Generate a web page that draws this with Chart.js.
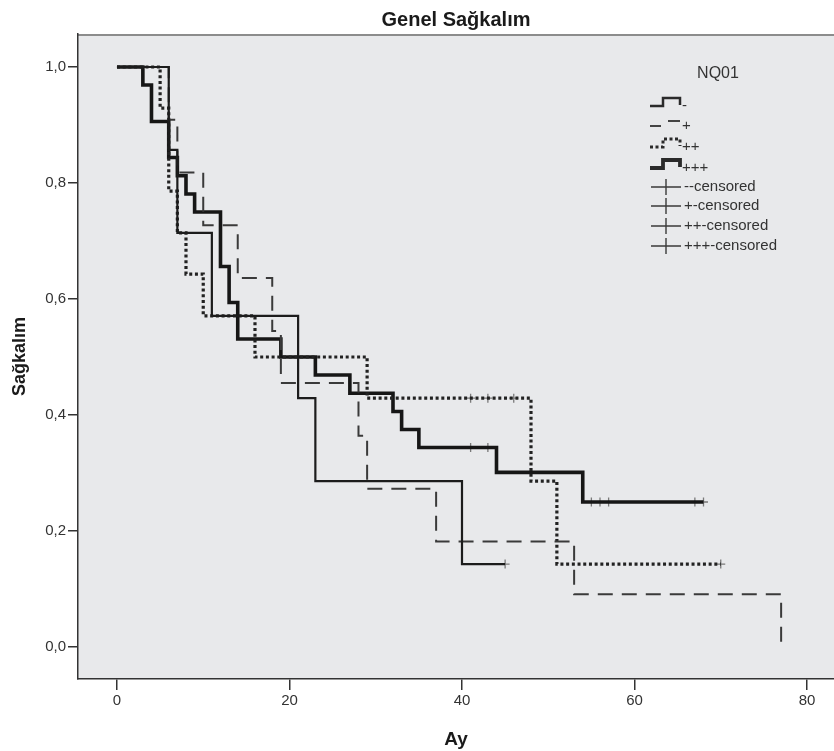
<!DOCTYPE html>
<html>
<head>
<meta charset="utf-8">
<script src="https://cdn.jsdelivr.net/npm/chart.js@4.4.0/dist/chart.umd.min.js"></script>
<style>
  html, body { margin: 0; padding: 0; background: #fff; }
  #wrap { width: 834px; height: 751px; }
</style>
</head>
<body>
<div id="wrap"><canvas id="km" width="834" height="751"></canvas></div>
<script>
// Kaplan-Meier steps per NQ01 group (time in months, survival)
const minusTimes = [0, 6, 7, 11, 21, 23, 40, 45];
const minusSurv = [1, 0.857, 0.714, 0.571, 0.429, 0.286, 0.143, 0.143];
const minusCensorTimes = [45];
const minusCensorSurv = [0.143];

const plusTimes = [0, 6, 7, 10, 14, 18, 19, 28, 29, 37, 53, 77];
const plusSurv = [1, 0.909, 0.818, 0.727, 0.636, 0.545, 0.455, 0.364, 0.273, 0.182, 0.091, 0];
const plusCensorTimes = [];
const plusCensorSurv = [];

const plus2Times = [0, 5, 6, 7, 8, 10, 16, 29, 48, 51, 70];
const plus2Surv = [1, 0.929, 0.786, 0.714, 0.643, 0.571, 0.5, 0.429, 0.286, 0.143, 0.143];
const plus2CensorTimes = [41, 43, 46, 70];
const plus2CensorSurv = [0.429, 0.429, 0.429, 0.143];

const plus3Times = [0, 3, 4, 6, 7, 8, 9, 12, 13, 14, 19, 23, 27, 32, 33, 35, 44, 54, 68];
const plus3Surv = [1, 0.969, 0.906, 0.844, 0.8125, 0.781, 0.75, 0.656, 0.594, 0.531, 0.5, 0.469, 0.4375, 0.406, 0.375, 0.344, 0.301, 0.25, 0.25];
const plus3CensorTimes = [41, 43, 55, 56, 57, 67, 68];
const plus3CensorSurv = [0.344, 0.344, 0.25, 0.25, 0.25, 0.25, 0.25];

const xTicks = [0, 20, 40, 60, 80];
const yTicks = [0, 0.2, 0.4, 0.6, 0.8, 1.0];

const FONT = "'Liberation Sans Narrow', 'Liberation Sans', Arial, sans-serif";

function pts(xs, ys) {
    return xs.map((x, i) => ({ x: x, y: ys[i] }));
}

function stepLine(label, xs, ys, width, dash, color) {
    return {
        type: 'line',
        label: label,
        data: pts(xs, ys),
        stepped: 'before',
        borderColor: color,
        borderWidth: width,
        borderDash: dash,
        pointRadius: 0,
        fill: false
    };
}

function censorSet(label, xs, ys) {
    return {
        type: 'scatter',
        label: label,
        data: pts(xs, ys),
        pointStyle: 'cross',
        pointRadius: 4.5,
        borderColor: '#7a7a7a',
        backgroundColor: '#7a7a7a',
        pointBorderWidth: 1.3,
        showLine: false
    };
}

// background, border, title and legend
const decor = {
    id: 'decor',
    beforeDraw(chart) {
        const { ctx, chartArea: a } = chart;
        ctx.save();
        ctx.fillStyle = '#ffffff';
        ctx.fillRect(0, 0, chart.width, chart.height);
        ctx.fillStyle = '#e8e9eb';
        ctx.fillRect(a.left, a.top, a.right - a.left, a.bottom - a.top);
        ctx.strokeStyle = '#8c8c8c';
        ctx.lineWidth = 2;
        ctx.beginPath();
        ctx.moveTo(a.left, a.top + 1);
        ctx.lineTo(a.right, a.top + 1);
        ctx.stroke();
        ctx.restore();
    },
    afterDraw(chart) {
        const { ctx, chartArea: a } = chart;
        ctx.save();
        ctx.fillStyle = '#1a1a1a';
        ctx.font = 'bold 20px ' + FONT;
        ctx.textAlign = 'center';
        ctx.textBaseline = 'middle';
        ctx.fillText('Genel Sağkalım', (a.left + a.right) / 2, 20);

        // legend
        ctx.fillStyle = '#333';
        ctx.font = '16px ' + FONT;
        ctx.fillText('NQ01', 718, 74);

        ctx.textAlign = 'left';
        ctx.font = '15px ' + FONT;
        const rows = [
            { text: '-', y: 103, kind: 'step', w: 2.5, dash: [] },
            { text: '+', y: 123, kind: 'dash', w: 2, dash: [] },
            { text: '++', y: 144, kind: 'step', w: 3, dash: [3, 2.5] },
            { text: '+++', y: 165, kind: 'step', w: 3.8, dash: [] },
            { text: '--censored', y: 187, kind: 'cens' },
            { text: '+-censored', y: 206, kind: 'cens' },
            { text: '++-censored', y: 226, kind: 'cens' },
            { text: '+++-censored', y: 246, kind: 'cens' }
        ];
        rows.forEach(r => {
            ctx.strokeStyle = '#2a2a2a';
            ctx.setLineDash([]);
            if (r.kind === 'step') {
                ctx.lineWidth = r.w;
                ctx.setLineDash(r.dash);
                ctx.beginPath();
                ctx.moveTo(650, r.y + 3);
                ctx.lineTo(663, r.y + 3);
                ctx.lineTo(663, r.y - 5);
                ctx.lineTo(680, r.y - 5);
                ctx.lineTo(680, r.y + 2);
                ctx.stroke();
            } else if (r.kind === 'dash') {
                ctx.lineWidth = r.w;
                ctx.strokeStyle = '#444';
                ctx.beginPath();
                ctx.moveTo(650, r.y + 3);
                ctx.lineTo(661, r.y + 3);
                ctx.moveTo(668, r.y - 2);
                ctx.lineTo(680, r.y - 2);
                ctx.stroke();
            } else {
                ctx.lineWidth = 1.4;
                ctx.strokeStyle = '#3a3a3a';
                ctx.beginPath();
                ctx.moveTo(651, r.y);
                ctx.lineTo(681, r.y);
                ctx.moveTo(666, r.y - 8);
                ctx.lineTo(666, r.y + 8);
                ctx.stroke();
            }
            ctx.fillStyle = '#333';
            ctx.textBaseline = 'middle';
            ctx.fillText(r.text, r.kind === 'cens' ? 684 : 682, r.y + (r.kind === 'cens' ? 0 : 3));
        });
        ctx.restore();
    }
};

new Chart(document.getElementById('km'), {
    type: 'line',
    data: {
        datasets: [
            stepLine('-', minusTimes, minusSurv, 2.2, [], '#1c1c1c'),
            stepLine('+', plusTimes, plusSurv, 2, [15, 9], '#3a3a3a'),
            stepLine('++', plus2Times, plus2Surv, 3.2, [3, 2.7], '#222'),
            stepLine('+++', plus3Times, plus3Surv, 3.6, [], '#161616'),
            censorSet('--censored', minusCensorTimes, minusCensorSurv),
            censorSet('+-censored', plusCensorTimes, plusCensorSurv),
            censorSet('++-censored', plus2CensorTimes, plus2CensorSurv),
            censorSet('+++-censored', plus3CensorTimes, plus3CensorSurv)
        ]
    },
    options: {
        responsive: false,
        animation: false,
        layout: { autoPadding: false, padding: { top: 34, right: 0, bottom: 0, left: 0 } },
        plugins: {
            legend: { display: false },
            tooltip: { enabled: false },
            title: { display: false }
        },
        scales: {
            x: {
                type: 'linear',
                min: -4.52,
                max: 83.13,
                afterBuildTicks: s => { s.ticks = xTicks.map(v => ({ value: v })); },
                afterFit: s => { s.height = 72; s.paddingLeft = 0; s.paddingRight = 0; },
                grid: { drawOnChartArea: false, drawTicks: true, tickLength: 11, color: '#333', lineWidth: 1.5 },
                border: { display: true, color: '#333', width: 1.5 },
                ticks: {
                    color: '#333',
                    padding: 2,
                    maxRotation: 0,
                    font: { family: FONT, size: 15 },
                    callback: v => String(v)
                },
                title: {
                    display: true,
                    text: 'Ay',
                    color: '#1a1a1a',
                    font: { family: FONT, size: 19, weight: 'bold' },
                    padding: { top: 0, bottom: 0 }
                }
            },
            y: {
                type: 'linear',
                min: -0.0552,
                max: 1.0569,
                afterBuildTicks: s => { s.ticks = yTicks.map(v => ({ value: v })); },
                afterFit: s => { s.width = 78; s.paddingTop = 0; s.paddingBottom = 0; },
                grid: { drawOnChartArea: false, drawTicks: true, tickLength: 10, color: '#333', lineWidth: 1.5 },
                border: { display: true, color: '#333', width: 1.5 },
                ticks: {
                    color: '#333',
                    padding: 2,
                    font: { family: FONT, size: 15 },
                    callback: v => v.toFixed(1).replace('.', ',')
                },
                title: {
                    display: true,
                    text: 'Sağkalım',
                    color: '#1a1a1a',
                    font: { family: FONT, size: 18, weight: 'bold' },
                    padding: { top: 9, bottom: 0 }
                }
            }
        }
    },
    plugins: [decor]
});
</script>
</body>
</html>
